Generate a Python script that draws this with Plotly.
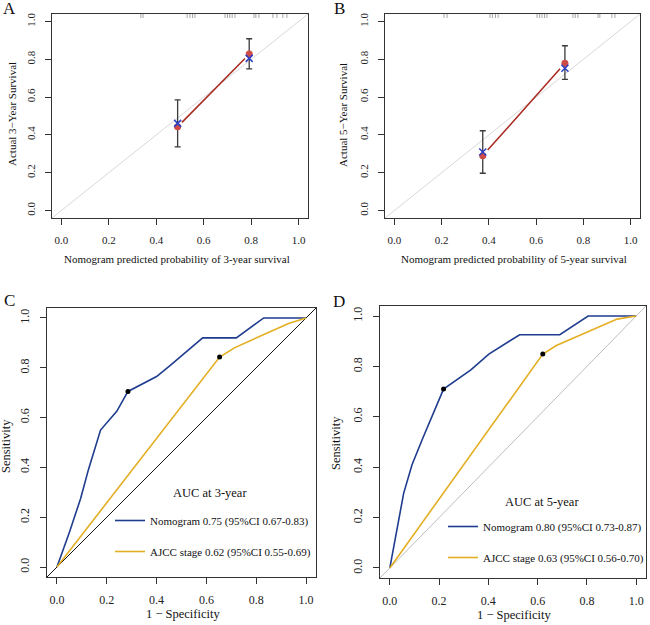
import plotly.graph_objects as go

W, H = 650, 625
FONT = "Liberation Serif"

# ---------------- Calibration data (panels A, B) ----------------
cal3_pred = [0.49, 0.792]
cal3_obs = [0.443, 0.828]
cal3_corr = [0.461, 0.805]
cal3_lo = [0.337, 0.749]
cal3_hi = [0.585, 0.909]
rug3 = [0.335, 0.344, 0.53, 0.542, 0.553, 0.563, 0.69, 0.70, 0.71, 0.72, 0.732,
        0.812, 0.82, 0.833, 0.892, 0.909, 0.934, 0.951]

cal5_pred = [0.374, 0.722]
cal5_obs = [0.290, 0.779]
cal5_corr = [0.309, 0.753]
cal5_lo = [0.197, 0.694]
cal5_hi = [0.422, 0.872]
rug5 = [0.21, 0.223, 0.405, 0.415, 0.428, 0.439, 0.604, 0.615, 0.625, 0.636, 0.646,
        0.756, 0.766, 0.777, 0.862, 0.87, 0.921, 0.934]

# ---------------- ROC data (panels C, D) ----------------
roc3_nomo_fpr = [0.0, 0.05, 0.095, 0.126, 0.175, 0.24, 0.285, 0.40, 0.455, 0.585, 0.72, 0.83, 1.0]
roc3_nomo_tpr = [0.0, 0.14, 0.275, 0.39, 0.55, 0.625, 0.705, 0.765, 0.81, 0.92, 0.92, 1.0, 1.0]
roc3_ajcc_fpr = [0.0, 0.653, 0.714, 0.82, 0.93, 1.0]
roc3_ajcc_tpr = [0.0, 0.843, 0.881, 0.93, 0.978, 1.0]
cut3_fpr = [0.285, 0.653]
cut3_tpr = [0.705, 0.843]

roc5_nomo_fpr = [0.0, 0.056, 0.09, 0.134, 0.218, 0.329, 0.402, 0.527, 0.69, 0.805, 1.0]
roc5_nomo_tpr = [0.0, 0.296, 0.41, 0.516, 0.71, 0.786, 0.849, 0.926, 0.926, 1.0, 1.0]
roc5_ajcc_fpr = [0.0, 0.621, 0.676, 0.80, 0.923, 1.0]
roc5_ajcc_tpr = [0.0, 0.849, 0.883, 0.935, 0.988, 1.0]
cut5_fpr = [0.218, 0.621]
cut5_tpr = [0.71, 0.849]

legend3 = ["Nomogram 0.75 (95%CI 0.67-0.83)", "AJCC stage 0.62 (95%CI 0.55-0.69)"]
legend5 = ["Nomogram 0.80 (95%CI 0.73-0.87)", "AJCC stage 0.63 (95%CI 0.56-0.70)"]

ticks = [0.0, 0.2, 0.4, 0.6, 0.8, 1.0]
tick_text = ["0.0", "0.2", "0.4", "0.6", "0.8", "1.0"]

RED_LINE = "#A8281E"
RED_DOT = "#CF4B45"
BLUE_X = "#2B3FC8"
NAVY = "#1F3C8F"
GOLD = "#E3AE22"


def px(x):
    return x / W


def py(y):
    return 1 - y / H


fig = go.Figure()

# ---------------- helpers ----------------
def calib(xa, ya, pred, obs, corr, lo, hi, rug):
    # ideal diagonal
    fig.add_trace(go.Scatter(x=[-0.1, 1.1], y=[-0.1, 1.1], mode="lines",
                             line=dict(color="#D8D8D8", width=1),
                             xaxis=xa, yaxis=ya, showlegend=False, hoverinfo="skip"))
    # rug at top
    rx, ry = [], []
    for r in rug:
        rx += [r, r, None]
        ry += [1.019, 1.04, None]
    fig.add_trace(go.Scatter(x=rx, y=ry, mode="lines",
                             line=dict(color="#A5A5A5", width=1),
                             xaxis=xa, yaxis=ya, showlegend=False, hoverinfo="skip"))
    # connecting line (type "b": gaps around points)
    g = 0.06
    lx, ly = [], []
    for i in range(len(pred) - 1):
        dx = pred[i + 1] - pred[i]
        dy = obs[i + 1] - obs[i]
        lx += [pred[i] + g * dx, pred[i + 1] - g * dx, None]
        ly += [obs[i] + g * dy, obs[i + 1] - g * dy, None]
    fig.add_trace(go.Scatter(x=lx, y=ly, mode="lines",
                             line=dict(color=RED_LINE, width=1.5),
                             xaxis=xa, yaxis=ya, showlegend=False, hoverinfo="skip"))
    # error bars + observed points
    fig.add_trace(go.Scatter(
        x=pred, y=obs, mode="markers",
        marker=dict(color=RED_DOT, size=7),
        error_y=dict(type="data", symmetric=False,
                     array=[h - o for h, o in zip(hi, obs)],
                     arrayminus=[o - l for o, l in zip(obs, lo)],
                     color="#3A3A3A", thickness=1.3, width=3),
        xaxis=xa, yaxis=ya, showlegend=False))
    # bias-corrected
    fig.add_trace(go.Scatter(x=pred, y=corr, mode="markers",
                             marker=dict(symbol="x-thin", size=7,
                                         line=dict(color=BLUE_X, width=1.5)),
                             xaxis=xa, yaxis=ya, showlegend=False))


def roc(xa, ya, nf, nt, af, at, cf, ct, labels, legend_name, diag_color):
    fig.add_trace(go.Scatter(x=[-0.1, 1.1], y=[-0.1, 1.1], mode="lines",
                             line=dict(color=diag_color, width=1),
                             xaxis=xa, yaxis=ya, showlegend=False, hoverinfo="skip"))
    fig.add_trace(go.Scatter(x=nf, y=nt, mode="lines", name=labels[0],
                             line=dict(color=NAVY, width=1.6),
                             xaxis=xa, yaxis=ya, legend=legend_name,
                             legendgroup=legend_name + "a"))
    fig.add_trace(go.Scatter(x=af, y=at, mode="lines", name=labels[1],
                             line=dict(color=GOLD, width=1.6),
                             xaxis=xa, yaxis=ya, legend=legend_name,
                             legendgroup=legend_name + "b"))
    fig.add_trace(go.Scatter(x=cf, y=ct, mode="markers",
                             marker=dict(color="black", size=5),
                             xaxis=xa, yaxis=ya, showlegend=False))


calib("x", "y", cal3_pred, cal3_obs, cal3_corr, cal3_lo, cal3_hi, rug3)
calib("x2", "y2", cal5_pred, cal5_obs, cal5_corr, cal5_lo, cal5_hi, rug5)
roc("x3", "y3", roc3_nomo_fpr, roc3_nomo_tpr, roc3_ajcc_fpr, roc3_ajcc_tpr,
    cut3_fpr, cut3_tpr, legend3, "legend", "#111111")
roc("x4", "y4", roc5_nomo_fpr, roc5_nomo_tpr, roc5_ajcc_fpr, roc5_ajcc_tpr,
    cut5_fpr, cut5_tpr, legend5, "legend2", "#BDBDBD")


def xaxis(domain, anchor, fs=11):
    return dict(domain=domain, anchor=anchor, range=[-0.04, 1.04],
                tickvals=ticks, ticktext=tick_text, ticks="outside", ticklen=6,
                tickwidth=1, tickcolor="#333", showline=True, linecolor="#333",
                linewidth=1, mirror=True, showgrid=False, zeroline=False,
                ticklabelstandoff=6,
                tickfont=dict(family=FONT, size=fs, color="#222"))


def yaxis(domain, anchor, fs=11):
    d = xaxis(domain, anchor, fs)
    d["tickangle"] = -90
    d["ticklabelstandoff"] = 6
    return d


# box pixel positions
A = dict(x0=52, x1=308, y0=14, y1=218)
B = dict(x0=385, x1=640, y0=14, y1=218)
C = dict(x0=47, x1=316, y0=308, y1=577)
D = dict(x0=380, x1=646, y0=306, y1=578)


def dom_x(b):
    return [px(b["x0"]), px(b["x1"])]


def dom_y(b):
    return [py(b["y1"]), py(b["y0"])]


annotations = []


def ann(text, x, y, size=11, angle=0):
    annotations.append(dict(text=text, x=px(x), y=py(y), xref="paper", yref="paper",
                            showarrow=False, textangle=angle, xanchor="center",
                            yanchor="middle",
                            font=dict(family=FONT, size=size, color="#111")))


# axis titles
ann("Nomogram predicted probability of 3-year survival", 177, 259)
ann("Actual 3\u2212Year Survival", 12, 114, angle=-90)
ann("Nomogram predicted probability of 5-year survival", 514, 259)
ann("Actual 5\u2212Year Survival", 343, 115, angle=-90)
ann("1 \u2212 Specificity", 183, 614, size=12.5)
ann("Sensitivity", 6, 446, size=12.5, angle=-90)
ann("1 \u2212 Specificity", 514, 615, size=12.5)
ann("Sensitivity", 336, 443, size=12.5, angle=-90)
# panel letters
ann("A", 9, 9, size=17)
ann("B", 339, 9, size=17)
ann("C", 9, 300, size=17)
ann("D", 339, 301, size=17)
# legend headings
ann("AUC at 3-year", 210, 493, size=12.5)
ann("AUC at 5-year", 542, 502, size=12.5)

leg_common = dict(xanchor="left", yanchor="top", bgcolor="rgba(0,0,0,0)",
                  borderwidth=0, tracegroupgap=12, itemwidth=30,
                  font=dict(family=FONT, size=11, color="#111"))

fig.update_layout(
    width=W, height=H,
    margin=dict(l=0, r=0, t=0, b=0),
    paper_bgcolor="white", plot_bgcolor="white",
    xaxis=xaxis(dom_x(A), "y"), yaxis=yaxis(dom_y(A), "x"),
    xaxis2=xaxis(dom_x(B), "y2"), yaxis2=yaxis(dom_y(B), "x2"),
    xaxis3=xaxis(dom_x(C), "y3", 12), yaxis3=yaxis(dom_y(C), "x3", 12),
    xaxis4=xaxis(dom_x(D), "y4", 12), yaxis4=yaxis(dom_y(D), "x4", 12),
    legend=dict(x=px(110), y=py(506), **leg_common),
    legend2=dict(x=px(443), y=py(512), **leg_common),
    annotations=annotations,
    showlegend=True,
)

fig.write_html("out.html",
               config={"displayModeBar": False},
               post_script="document.body.style.margin='0';"
                           "document.body.style.overflow='hidden';")
